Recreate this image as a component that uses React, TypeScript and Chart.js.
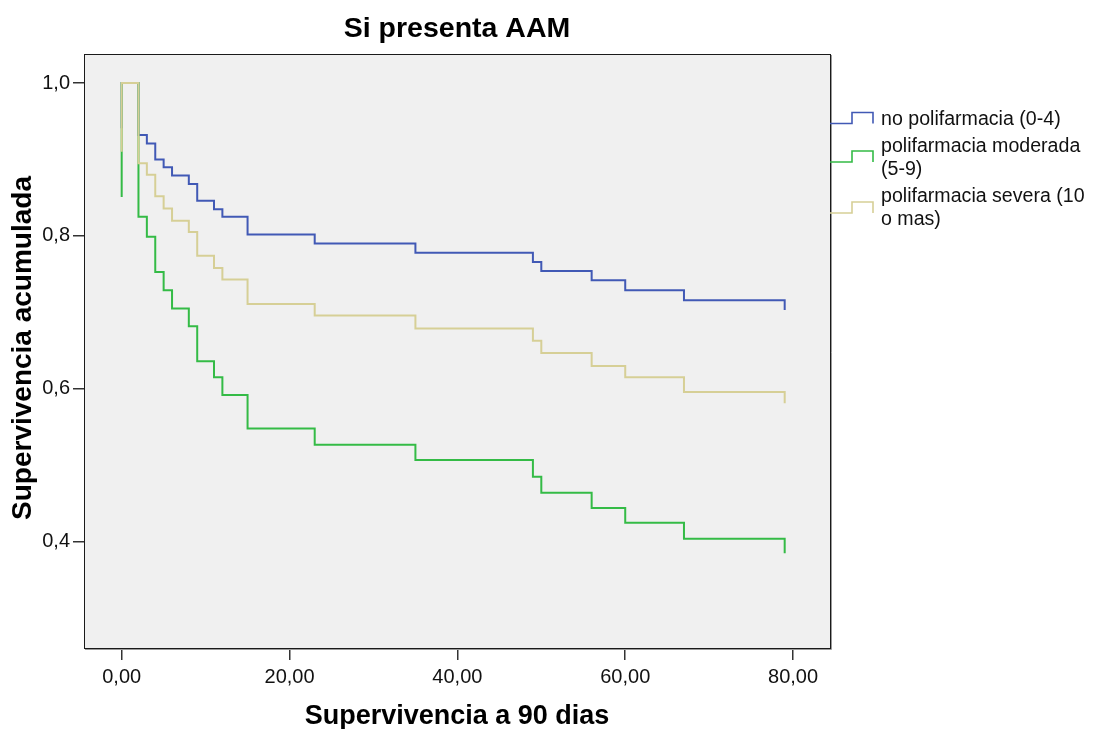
import React, { useEffect, useRef } from "react";
import { Chart, registerables } from "chart.js";

Chart.register(...registerables);

// ---- Data ----
const titleText = "Si presenta AAM";
const xAxisTitle = "Supervivencia a 90 dias";
const yAxisTitle = "Supervivencia acumulada";

const eventTimes = [2, 3, 4, 5, 6, 8, 9, 11, 12, 15, 23, 35, 49, 50, 56, 60, 67, 79];

const noPolifarmacia = [0.932, 0.921, 0.9, 0.89, 0.879, 0.868, 0.846, 0.835, 0.825, 0.802, 0.79, 0.778, 0.766, 0.754, 0.742, 0.729, 0.716, 0.703];
const polifarmaciaModerada = [0.825, 0.799, 0.753, 0.729, 0.705, 0.682, 0.636, 0.615, 0.592, 0.548, 0.527, 0.507, 0.485, 0.464, 0.444, 0.425, 0.404, 0.385];
const polifarmaciaSevera = [0.895, 0.88, 0.852, 0.836, 0.82, 0.805, 0.774, 0.758, 0.743, 0.711, 0.696, 0.679, 0.663, 0.647, 0.63, 0.615, 0.596, 0.581];

// marks at time 0 (vertical ticks drawn by the original at t = 0)
const startMarks = [0.941, 0.851, 0.91];

const seriesLabels = [
  ["no polifarmacia (0-4)"],
  ["polifarmacia moderada", "(5-9)"],
  ["polifarmacia severa (10", "o mas)"],
];
const seriesColors = ["#4159b5", "#34bb46", "#d6cf96"];

const xTicks = [0, 20, 40, 60, 80];
const yTicks = [0.4, 0.6, 0.8, 1.0];

const FONT = "'Liberation Sans', Arial, sans-serif";

function buildSeries(values: number[], mark: number) {
  const pts = [
    { x: 0, y: mark },
    { x: 0, y: 1.0 },
  ];
  eventTimes.forEach((t, i) => pts.push({ x: t, y: values[i] }));
  return pts;
}

const decorPlugin = {
  id: "decor",
  beforeDraw(chart: any) {
    const { ctx, chartArea: a, width, height } = chart;
    ctx.save();
    ctx.fillStyle = "#ffffff";
    ctx.fillRect(0, 0, width, height);
    ctx.fillStyle = "#f0f0f0";
    ctx.fillRect(a.left, a.top, a.right - a.left, a.bottom - a.top);
    ctx.restore();
  },
  afterDraw(chart: any) {
    const { ctx, chartArea: a } = chart;
    ctx.save();
    // frame
    ctx.strokeStyle = "#9a9a9a";
    ctx.lineWidth = 1;
    ctx.beginPath();
    ctx.moveTo(a.right + 1.5, a.top + 1);
    ctx.lineTo(a.right + 1.5, a.bottom + 1.5);
    ctx.lineTo(a.left + 1, a.bottom + 1.5);
    ctx.stroke();
    ctx.strokeStyle = "#1a1a1a";
    ctx.strokeRect(Math.round(a.left) + 0.5, Math.round(a.top) + 0.5, Math.round(a.right - a.left), Math.round(a.bottom - a.top));

    // title
    ctx.fillStyle = "#000";
    ctx.textAlign = "center";
    ctx.textBaseline = "middle";
    ctx.font = `bold 28.5px ${FONT}`;
    ctx.fillText(titleText, (a.left + a.right) / 2, 29);

    // x axis title
    ctx.font = `bold 27px ${FONT}`;
    ctx.fillText(xAxisTitle, (a.left + a.right) / 2, 717);

    // y axis title
    ctx.font = `bold 28px ${FONT}`;
    ctx.save();
    ctx.translate(23, (a.top + a.bottom) / 2 - 3);
    ctx.rotate(-Math.PI / 2);
    ctx.fillText(yAxisTitle, 0, 0);
    ctx.restore();

    // legend
    const entries = [
      { low: 123.5, high: 112.5, textY: 120 },
      { low: 162, high: 151, textY: 146.7 },
      { low: 213, high: 202, textY: 196.7 },
    ];
    ctx.font = `19.6px ${FONT}`;
    ctx.textAlign = "left";
    ctx.textBaseline = "middle";
    entries.forEach((e, i) => {
      const x0 = a.right;
      ctx.strokeStyle = seriesColors[i];
      ctx.lineWidth = 1.6;
      ctx.beginPath();
      ctx.moveTo(x0, e.low);
      ctx.lineTo(x0 + 22, e.low);
      ctx.lineTo(x0 + 22, e.high);
      ctx.lineTo(x0 + 43, e.high);
      ctx.lineTo(x0 + 43, e.low);
      ctx.stroke();
      ctx.fillStyle = "#111";
      seriesLabels[i].forEach((line, j) => {
        ctx.fillText(line, x0 + 51, e.textY + j * 23);
      });
    });
    ctx.restore();
  },
};

export default function App() {
  const ref = useRef<HTMLCanvasElement | null>(null);

  useEffect(() => {
    if (!ref.current) return;
    const seriesValues = [noPolifarmacia, polifarmaciaModerada, polifarmaciaSevera];
    const order = [0, 1, 2];
    const chart = new Chart(ref.current, {
      type: "line",
      data: {
        datasets: order.map((i) => ({
          label: seriesLabels[i].join(" "),
          data: buildSeries(seriesValues[i], startMarks[i]),
          borderColor: seriesColors[i],
          backgroundColor: seriesColors[i],
          borderWidth: 2,
          pointRadius: 0,
          stepped: "before" as const,
          fill: false,
          order: i === 2 ? 0 : i === 1 ? 1 : 2,
        })),
      },
      options: {
        animation: false,
        responsive: false,
        maintainAspectRatio: false,
        layout: { padding: { top: 54, right: 265, left: 0, bottom: 0 } },
        plugins: {
          legend: { display: false },
          title: { display: false },
          tooltip: { enabled: false },
        },
        scales: {
          x: {
            type: "linear",
            min: -4.49,
            max: 84.4,
            afterBuildTicks: (s: any) => {
              s.ticks = xTicks.map((v) => ({ value: v }));
            },
            afterFit: (s: any) => {
              s.height = 81;
            },
            ticks: {
              autoSkip: false,
              maxRotation: 0,
              padding: 5,
              color: "#111",
              font: { family: FONT, size: 20 },
              callback: (v: any) => Number(v).toFixed(2).replace(".", ","),
            },
            grid: {
              drawOnChartArea: false,
              drawTicks: true,
              tickLength: 12,
              color: "#333",
              lineWidth: 1.5,
            },
            border: { display: false },
          },
          y: {
            type: "linear",
            min: 0.261,
            max: 1.038,
            afterBuildTicks: (s: any) => {
              s.ticks = yTicks.map((v) => ({ value: v }));
            },
            afterFit: (s: any) => {
              s.width = 84;
            },
            ticks: {
              autoSkip: false,
              padding: 3,
              color: "#111",
              font: { family: FONT, size: 20 },
              callback: (v: any) => Number(v).toFixed(1).replace(".", ","),
            },
            grid: {
              drawOnChartArea: false,
              drawTicks: true,
              tickLength: 11,
              color: "#333",
              lineWidth: 1.5,
            },
            border: { display: false },
          },
        },
      },
      plugins: [decorPlugin],
    });
    return () => chart.destroy();
  }, []);

  return (
    <div style={{ position: "fixed", left: 0, top: 0, width: 1095, height: 729, background: "#fff" }}>
      <canvas ref={ref} width={1095} height={729} style={{ display: "block", width: 1095, height: 729 }} />
    </div>
  );
}
